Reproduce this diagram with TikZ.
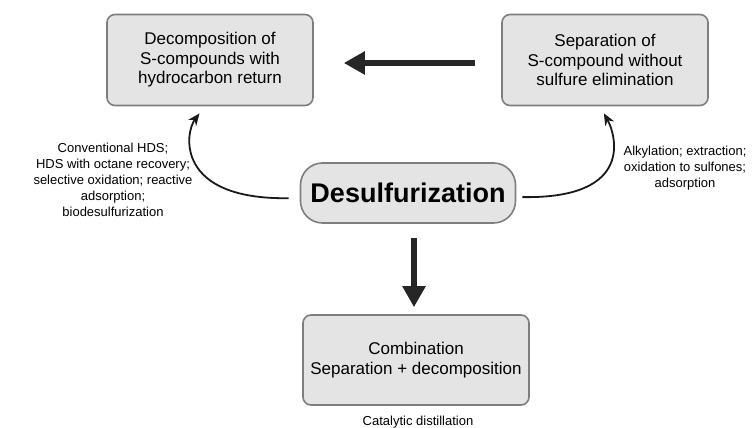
\documentclass[tikz,border=0pt]{standalone}
\usepackage{fontspec}
\setmainfont{Liberation Sans}
\usetikzlibrary{arrows.meta,positioning}
\definecolor{boxfill}{HTML}{E4E4E4}
\definecolor{boxline}{HTML}{7E7E7E}
\tikzset{x=1pt,y=-1pt,
	every box/.style={
		draw=boxline,
		fill=boxfill,
		line width=1.6pt,
		rounded corners=8pt,
		align=center,
		inner sep=4pt,
		font=\fontsize{17}{19.5}\selectfont
	},
	route box/.style={every box, minimum width=206pt, minimum height=91pt},
	main box/.style={every box, rounded corners=22pt, minimum width=215pt, minimum height=60pt,
		font=\fontsize{27}{30}\selectfont\bfseries},
	note/.style={align=center, font=\fontsize{13}{16}\selectfont},
	block arrow/.style={
		draw=black!85,
		line width=6.5pt,
		-{Triangle[length=21pt,width=22pt]}
	},
	bend arrow/.style={
		draw=black!90,
		line width=1.8pt,
		-{Stealth[length=12pt,width=10pt]}
	}
}
\begin{document}
\begin{tikzpicture}
	\useasboundingbox (0,0) rectangle (755,428);
	\node[route box] (decomp) at (210,60) {Decomposition of\\S-compounds with\\hydrocarbon return};
	\node[route box] (separ) at (605,60) {Separation of\\S-compound without\\sulfure elimination};
	\node[main box] (desulf) at (408,193) {Desulfurization};
	\node[every box, minimum width=226pt, minimum height=90pt] (combo) at (416,360) {Combination\\Separation + decomposition};
	% process notes
	\node[note] (hdsnote) at (113,180) {Conventional HDS;\\HDS with octane recovery;\\selective oxidation; reactive\\adsorption;\\biodesulfurization};
	\node[note] (sepnote) at (685,168) {Alkylation; extraction;\\oxidation to sulfones;\\adsorption};
	\node[note] (catnote) at (418,422) {Catalytic distillation};
	% arrows
	\draw[block arrow, shorten <=26pt, shorten >=30pt] ([yshift=-3pt]separ.west) -- ([yshift=-3pt]decomp.east);
	\draw[block arrow, shorten <=14pt, shorten >=7pt] ([xshift=6pt]desulf.south) -- ([xshift=-2pt]combo.north);
	\draw[bend arrow, shorten <=11pt, shorten >=9pt] ([yshift=-5pt]desulf.west) .. controls +(-125,2) and +(-20,26) .. ([xshift=-5pt]decomp.south);
	\draw[bend arrow, shorten <=6pt, shorten >=8pt] ([yshift=-4pt]desulf.east) .. controls +(120,2) and +(15,27) .. ([xshift=-5pt]separ.south);
\end{tikzpicture}
\end{document}
